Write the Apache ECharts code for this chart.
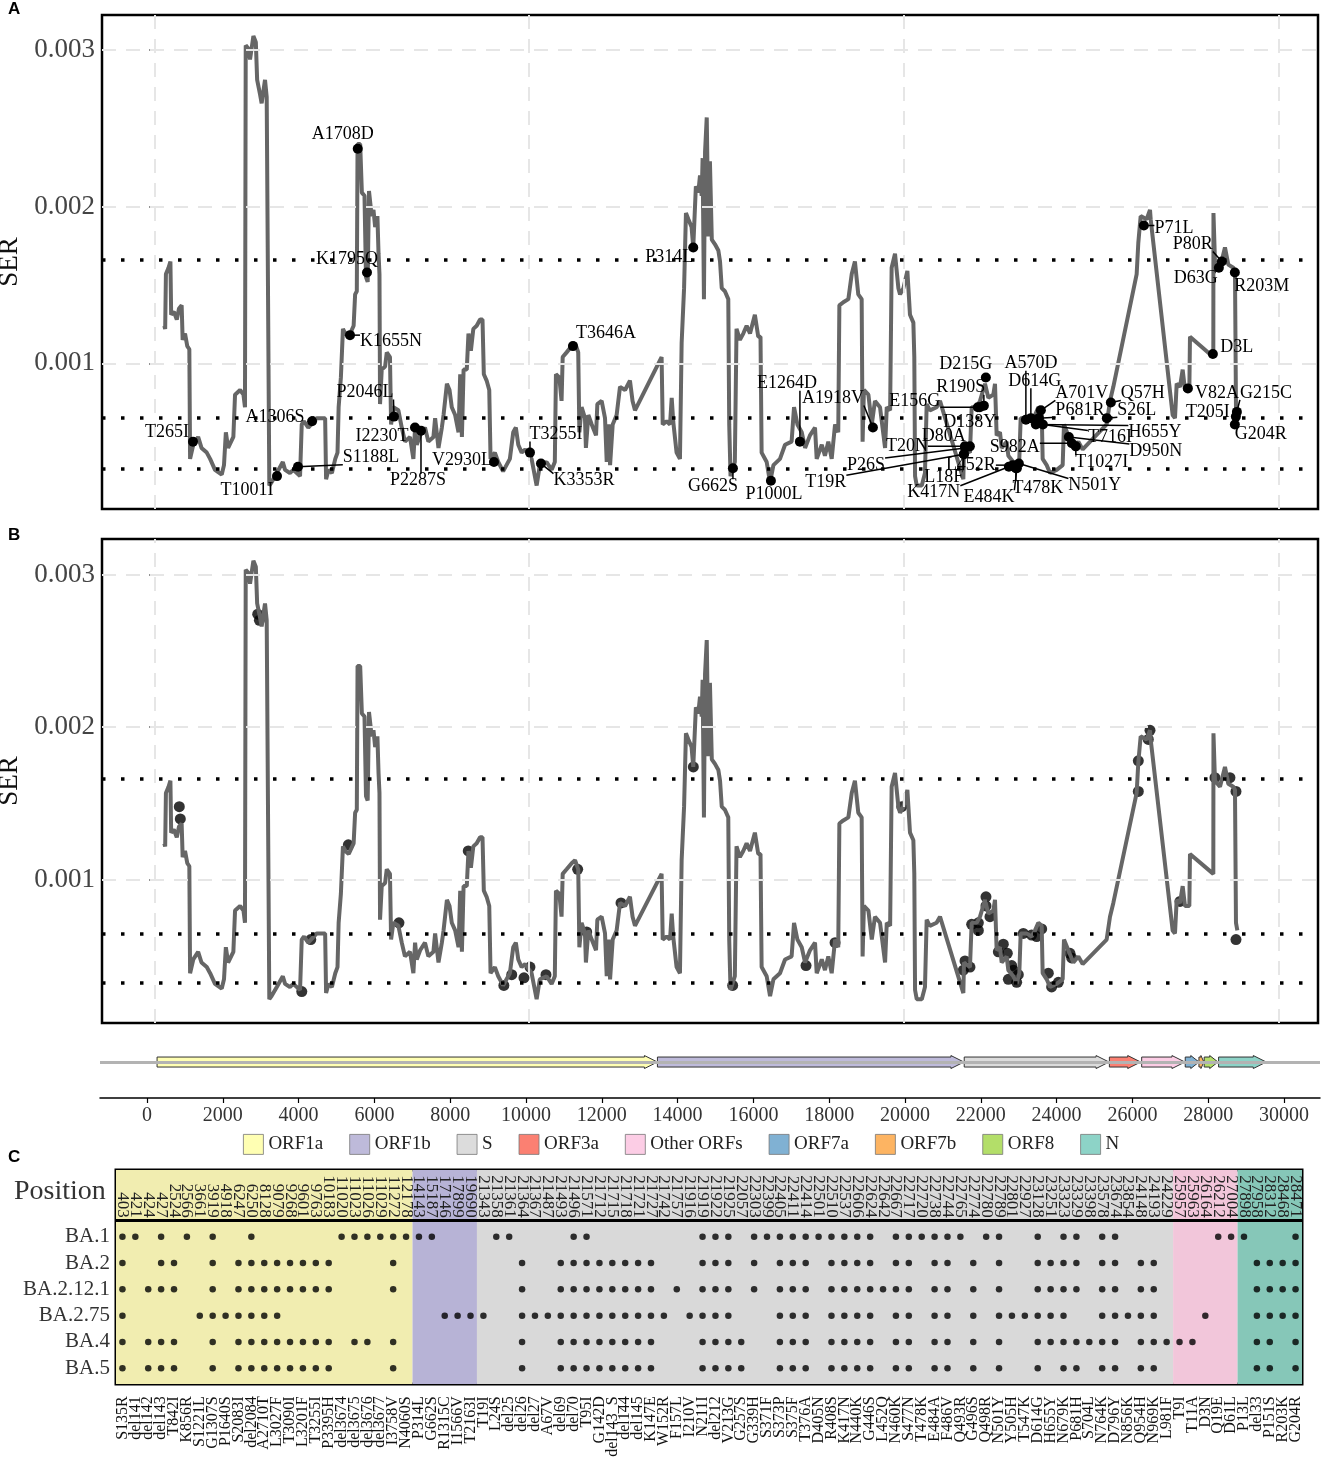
<!DOCTYPE html>
<html>
<head>
<meta charset="utf-8">
<script src="https://cdn.jsdelivr.net/npm/echarts@6/dist/echarts.min.js"></script>
<style>
html, body { margin: 0; padding: 0; background: #fff; }
#charts { width: 1325px; height: 1461px; }
</style>
</head>
<body>
<div id="charts"></div>
<script>
// ---- data ----
// SER along the genome, values in units of 1e-3
var serPoints = [[267,1.24],[290,1.22],[310,1.57],[380,1.61],[430,1.65],[450,1.31],[520,1.33],[600,1.28],[660,1.35],[730,1.37],[757,1.15],[820,1.19],[880,1.11],[935,1.09],[955,0.39],[1040,0.48],[1170,0.53],[1260,0.46],[1400,0.43],[1490,0.39],[1620,0.32],[1800,0.29],[1860,0.35],[1910,0.56],[1970,0.46],[2110,0.53],[2155,0.80],[2290,0.83],[2380,0.80],[2420,0.72],[2440,3.03],[2510,3.01],[2555,2.94],[2645,3.09],[2710,3.05],[2745,2.81],[2820,2.72],[2865,2.66],[2955,2.81],[3000,2.70],[3045,2.70],[3070,0.22],[3130,0.24],[3270,0.30],[3430,0.37],[3490,0.32],[3620,0.30],[3710,0.32],[3890,0.28],[3935,0.61],[3995,0.63],[4110,0.59],[4335,0.65],[4560,0.65],[4585,0.26],[4650,0.32],[4740,0.30],[4830,0.39],[4890,0.43],[4920,0.72],[4980,0.91],[5035,1.22],[5100,1.19],[5190,1.17],[5320,1.24],[5360,1.44],[5405,1.46],[5425,2.40],[5495,2.40],[5540,2.09],[5610,2.07],[5650,1.55],[5695,1.52],[5730,2.10],[5775,2.00],[5800,1.94],[5850,1.98],[5895,1.87],[5955,1.94],[5985,1.70],[6010,1.57],[6025,0.74],[6070,0.96],[6160,0.98],[6205,1.07],[6290,1.04],[6320,0.61],[6380,0.72],[6515,0.70],[6605,0.59],[6690,0.50],[6825,0.53],[6915,0.39],[6960,0.59],[7005,0.48],[7095,0.54],[7225,0.59],[7315,0.50],[7450,0.53],[7495,0.65],[7585,0.46],[7675,0.59],[7720,0.67],[7810,0.87],[7880,0.83],[7940,0.72],[8030,0.67],[8120,0.56],[8165,0.93],[8210,0.53],[8255,0.96],[8340,0.96],[8385,1.19],[8450,1.08],[8515,1.22],[8605,1.24],[8695,1.28],[8760,1.28],[8795,0.93],[8870,0.89],[8940,0.83],[8975,0.39],[9090,0.43],[9180,0.37],[9310,0.31],[9490,0.39],[9580,0.56],[9650,0.59],[9715,0.48],[9805,0.43],[9900,0.45],[10070,0.39],[10205,0.22],[10290,0.35],[10470,0.37],[10605,0.32],[10690,0.37],[10720,0.93],[10810,0.91],[10870,0.76],[10900,1.04],[11005,1.07],[11140,1.11],[11230,1.13],[11315,1.07],[11345,0.56],[11405,0.72],[11495,0.65],[11520,0.46],[11585,0.67],[11675,0.61],[11790,0.54],[11825,0.74],[11940,0.76],[12030,0.65],[12075,0.37],[12125,0.61],[12165,0.35],[12235,0.61],[12340,0.67],[12430,0.85],[12565,0.83],[12695,0.89],[12765,0.76],[12830,0.70],[13540,1.04],[13570,0.61],[13675,0.63],[13765,0.61],[13810,0.78],[13850,0.63],[13940,0.43],[14030,0.39],[14075,1.13],[14140,1.48],[14190,1.96],[14255,1.92],[14340,1.87],[14385,1.74],[14455,2.13],[14520,2.09],[14565,2.20],[14610,2.07],[14635,2.31],[14670,1.41],[14700,2.35],[14745,2.57],[14790,1.81],[14830,2.29],[14880,1.79],[14965,1.76],[15055,1.72],[15100,1.65],[15145,1.48],[15230,1.46],[15320,1.41],[15345,0.61],[15380,0.28],[15495,0.37],[15540,1.22],[15630,1.15],[15720,1.19],[15810,1.24],[15900,1.19],[16030,1.31],[16120,1.17],[16180,1.17],[16210,0.43],[16345,0.37],[16435,0.24],[16525,0.35],[16700,0.39],[16835,0.48],[17010,0.50],[17075,0.72],[17165,0.61],[17280,0.56],[17370,0.46],[17500,0.54],[17635,0.59],[17680,0.39],[17815,0.48],[17900,0.41],[17990,0.50],[18080,0.39],[18170,0.61],[18255,0.56],[18285,1.37],[18390,1.39],[18525,1.41],[18615,1.57],[18700,1.65],[18790,1.44],[18880,1.41],[18905,0.50],[18940,0.83],[19060,0.80],[19150,0.61],[19235,0.76],[19370,0.72],[19505,0.46],[19550,0.72],[19640,0.70],[19680,1.61],[19770,1.70],[19860,1.48],[19905,1.44],[19995,1.48],[20100,1.59],[20170,1.31],[20260,1.26],[20285,1.04],[20305,0.28],[20350,0.22],[20485,0.22],[20570,0.30],[20615,0.74],[20700,0.70],[20880,0.72],[20971,0.76],[21594,0.26],[21611,0.46],[21771,0.43],[21816,0.72],[21950,0.72],[22039,0.76],[22172,0.87],[22261,0.78],[22395,0.80],[22439,0.87],[22483,0.54],[22572,0.56],[22617,0.46],[22750,0.50],[22795,0.41],[22928,0.37],[23017,0.32],[23088,0.39],[23124,0.65],[23284,0.65],[23417,0.63],[23507,0.67],[23595,0.72],[23685,0.70],[23711,0.39],[23818,0.35],[23907,0.30],[24085,0.32],[24245,0.35],[24280,0.61],[24396,0.54],[24530,0.46],[24663,0.50],[24779,0.45],[25419,0.61],[25508,0.76],[25597,0.85],[26220,1.57],[26264,1.77],[26327,1.94],[26487,1.92],[26576,1.98],[26594,1.92],[27181,0.67],[27243,0.65],[27288,0.87],[27377,0.85],[27448,0.96],[27510,0.83],[27626,0.83],[27643,1.17],[28266,1.04],[28270,1.96],[28310,1.65],[28444,1.61],[28577,1.74],[28666,1.63],[28800,1.61],[28844,1.59],[28871,0.72],[28907,0.67]];

var serTicks = [1, 2, 3];                 // 0.001, 0.002, 0.003
var serThresholds = [1.662, 0.654, 0.332];
var genomeGrid = [0, 10000, 20000, 30000];
var genomeTicks = [0,2000,4000,6000,8000,10000,12000,14000,16000,18000,20000,22000,24000,26000,28000,30000];

// panel A labelled mutations
var aNames = ['T265I','T1001I','S1188L','A1306S','K1655N','A1708D','K1795Q','P2046L','I2230T','P2287S','V2930L','T3255I','K3353R','T3646A','P314L','G662S','P1000L','E1264D','A1918V','L18F','T19R','T20N','P26S','D80A','D138Y','E156G','R190S','D215G','K417N','L452R','T478K','E484K','N501Y','A570D','D614G','H655Y','P681R','A701V','T716I','D950N','S982A','T1027I','S26L','Q57H','P71L','V82A','D3L','D63G','P80R','R203M','G204R','T205I','G215C'];
var aPos = [1033,3275,3835,4211,5223,5430,5677,6397,6958,7118,9066,10027,10320,11174,14385,15444,16458,17232,19180,21608,21608,21635,21640,21768,21981,22035,22142,22195,22809,22916,22996,23023,23076,23263,23396,23530,23610,23663,23717,24410,24490,24596,25424,25531,26413,27587,28254,28414,28494,28841,28841,28868,28895];
var aVal = [0.50,0.28,0.34,0.63,1.18,2.37,1.58,0.66,0.59,0.57,0.37,0.43,0.36,1.11,1.74,0.33,0.25,0.50,0.59,0.42,0.42,0.47,0.46,0.47,0.72,0.72,0.73,0.91,0.34,0.35,0.33,0.33,0.36,0.64,0.65,0.61,0.65,0.70,0.61,0.53,0.49,0.47,0.65,0.75,1.88,0.84,1.06,1.61,1.65,1.58,0.61,0.66,0.69];

// panel B mutation points
var bPoints = [[667,1.48],[694,1.40],[2760,2.74],[2805,2.70],[3936,0.27],[4176,0.61],[5179,1.23],[6530,0.72],[8380,1.19],[9330,0.31],[9540,0.38],[9867,0.36],[10027,0.43],[10454,0.38],[11300,1.07],[11540,0.66],[12457,0.85],[14387,1.74],[15437,0.31],[17395,0.44],[18170,0.59],[19950,1.48],[21594,0.41],[21638,0.47],[21771,0.43],[21816,0.71],[21994,0.72],[21994,0.67],[22198,0.89],[22198,0.83],[22305,0.76],[22528,0.53],[22661,0.58],[22768,0.52],[22795,0.35],[22884,0.44],[22928,0.41],[23017,0.33],[23061,0.38],[23195,0.65],[23417,0.64],[23551,0.63],[23685,0.68],[23862,0.39],[23951,0.30],[24130,0.33],[24440,0.52],[24485,0.49],[26264,1.58],[26264,1.78],[26531,1.92],[26576,1.98],[27377,0.86],[28310,1.67],[28710,1.67],[28871,1.58],[28871,0.61]];

// genome map
var geneNames = ['ORF1a','ORF1b','S','ORF3a','Other ORFs','ORF7a','ORF7b','ORF8','N'];
var geneStart = [266,13468,21563,25393,26245,27394,27756,27894,28274];
var geneEnd   = [13468,21555,25384,26220,27387,27759,27887,28259,29533];

// panel C
var positions = ['403','421','424','427','2524','2566','3661','3919','4918','6247','6250','8128','9079','9268','9601','9763','10183','11020','11023','11026','11029','11272','12178','14143','15187','17146','17899','19690','21343','21358','21361','21364','21367','21487','21493','21496','21571','21712','21715','21718','21721','21727','21742','21757','21916','21919','21922','21925','22057','22303','22399','22405','22411','22414','22501','22510','22537','22606','22624','22642','22667','22717','22720','22738','22744','22765','22774','22780','22789','22801','22927','23128','23251','23323','23329','23398','23578','23674','23854','24148','24193','24229','25957','25963','26164','26212','27004','27898','27958','28312','28468','28471'];
var mutations = ['S135R','del141','del142','del143','T842I','K856R','S1221L','G1307S','P1640S','S2083I','del2084','A2710T','L3027F','T3090I','L3201F','T3255I','P3395H','del3674','del3675','del3676','del3677','I3758V','N4060S','P314L','G662S','R1315C','I1566V','T2163I','T19I','L24S','del25','del26','del27','A67V','del69','del70','T95I','G142D','del143_S','del144','del145','K147E','W152R','F157L','I210V','N211I','del212','V213G','G257S','G339H','S371F','S373P','S375F','T376A','D405N','R408S','K417N','N440K','G446S','L452Q','N460K','S477N','T478K','E484A','F486V','Q493R','G496S','Q498R','N501Y','Y505H','T547K','D614G','H655Y','N679K','P681H','S704L','N764K','D796Y','N856K','Q954H','N969K','L981F','T9I','T11A','D3N','Q19E','D61L','P13L','del33','P151S','R203K','G204R'];
var blockNames = ['ORF1a','ORF1b','S','Other ORFs','N'];
var blockSizes = [23, 5, 54, 5, 5];
var lineages = ['BA.1','BA.2','BA.2.12.1','BA.2.75','BA.4','BA.5'];
var lineageCols = [
    [0,1,3,5,7,10,17,18,19,20,21,22,23,24,29,30,35,36,45,46,47,49,50,51,52,53,54,55,56,57,58,60,61,62,63,64,65,67,68,71,73,74,76,77,85,86,87,91],
    [0,3,4,7,9,10,11,12,13,14,15,16,21,31,34,35,36,37,38,39,40,41,45,46,47,49,51,52,53,55,56,57,58,60,61,63,64,66,68,71,72,73,74,76,77,79,80,88,89,90,91],
    [0,2,3,4,7,9,10,11,12,13,14,15,16,21,31,34,35,36,37,38,39,40,41,43,45,46,47,49,51,52,53,55,56,57,58,59,60,61,63,64,66,68,71,72,73,74,76,77,79,80,88,89,90,91],
    [0,6,7,8,9,10,11,12,25,26,27,28,31,32,33,34,35,36,37,38,39,40,41,42,44,45,46,47,51,52,53,55,56,57,58,60,61,63,64,66,68,69,70,71,72,73,76,77,78,79,80,84,88,89,90,91],
    [0,2,3,4,7,9,10,11,12,13,14,15,16,18,19,21,31,34,35,36,37,38,39,40,41,45,46,47,48,51,52,53,55,56,57,58,60,61,63,64,66,68,71,72,73,74,75,76,77,79,80,81,82,83,88,89,91],
    [0,2,3,4,7,9,10,11,12,13,14,15,16,21,31,34,35,36,37,38,39,40,41,45,46,47,48,51,52,53,55,56,57,58,60,61,63,64,66,68,71,73,74,76,77,79,80,88,89,91]
];

// ---- layout / style ----
var SERIF = '"Liberation Serif", "DejaVu Serif", serif';
var LABEL_FONT = '18px ' + SERIF;
// label offsets (px) from each labelled point, like ggrepel placed them
var aOffset = [[-26,-9],[-30,14],[73,-9],[-37,-4],[41,6],[-15,-14],[-20,-13],[-29,-24],[-33,9],[-3,50],[-32,-2],[26,-18],[43,17],[33,-13],[-24,10],[-20,18],[3,13],[-13,-58],[-40,-29],[-20,23],[-138,28],[-58,0],[-99,17],[-26,-10],[-8,15],[-65,-6],[-23,-18],[-20,-13],[-75,26],[-42,0],[22,20],[-28,29],[76,22],[5,-56],[4,-37],[119,8],[41,-8],[41,-17],[67,13],[87,14],[-57,4],[26,16],[30,-8],[32,-9],[30,3],[29,5],[24,-7],[-23,10],[-29,-17],[27,14],[26,10],[-28,-4],[29,-19]];
var geneColors = ['#ffffb3','#bebada','#dcdcdc','#fb8072','#fccde5','#80b1d3','#fdb462','#b3de69','#8dd3c7'];
var blockColors = ['#f1edb0','#b7b3d6','#d9d9d9','#f2c6da','#86c7b8'];

var measureCtx = document.createElement('canvas').getContext('2d');
function textWidth(t, font) {
    measureCtx.font = font;
    return measureCtx.measureText(t).width;
}

function renderMutLabel(params, api) {
    var i = params.dataIndex;
    var p = api.coord([api.value(0), api.value(1)]);
    var cx = p[0] + aOffset[i][0], cy = p[1] + aOffset[i][1];
    var w = textWidth(aNames[i], LABEL_FONT), h = 14;
    var nx = Math.max(cx - w / 2, Math.min(p[0], cx + w / 2));
    var ny = Math.max(cy - h / 2, Math.min(p[1], cy + h / 2));
    var kids = [];
    if (Math.hypot(nx - p[0], ny - p[1]) > 8) {
        kids.push({ type: 'line', shape: { x1: p[0], y1: p[1], x2: nx, y2: ny }, style: { stroke: '#000', lineWidth: 1.5 } });
    }
    kids.push({ type: 'circle', shape: { cx: p[0], cy: p[1], r: 5 }, style: { fill: '#000' } });
    kids.push({ type: 'text', x: cx, y: cy, style: { text: aNames[i], font: LABEL_FONT, fill: '#000', align: 'center', verticalAlign: 'middle' } });
    return { type: 'group', children: kids };
}

function renderGene(params, api) {
    var y = api.coord([0, 0.62])[1];
    var s = api.coord([api.value(0), 0.62])[0];
    var e = api.coord([api.value(1), 0.62])[0];
    var hl = Math.min(13, (e - s) * 0.6);
    return {
        type: 'polygon',
        shape: { points: [[s, y - 5], [e - hl, y - 5], [e - hl, y - 6.5], [e, y], [e - hl, y + 6.5], [e - hl, y + 5], [s, y + 5]] },
        style: { fill: api.visual('color'), stroke: '#333', lineWidth: 1 }
    };
}

function serPanelAxisY(grid, min, max) {
    return {
        gridIndex: grid, type: 'value', min: min, max: max,
        axisLine: { show: false },
        axisTick: { show: true, customValues: serTicks, length: 5, lineStyle: { color: '#333', width: 1.5 } },
        axisLabel: { customValues: serTicks, formatter: function (v) { return (v / 1000).toFixed(3); }, fontFamily: SERIF, fontSize: 27, color: '#444', margin: 7 },
        splitLine: { show: false },
        name: 'SER', nameLocation: 'middle', nameGap: 68, nameRotate: 90,
        nameTextStyle: { fontFamily: SERIF, fontSize: 27, color: '#111' }
    };
}

function gridSeries(k) {
    return {
        type: 'line', xAxisIndex: k, yAxisIndex: k, data: [], z: 0, silent: true,
        markLine: {
            silent: true, symbol: 'none', label: { show: false }, animation: false,
            lineStyle: { color: '#e6e6e6', width: 2, type: [14, 10] },
            data: serTicks.map(function (v) { return { yAxis: v }; })
                .concat(genomeGrid.map(function (v) { return { xAxis: v }; }))
        }
    };
}

function thresholdSeries(k) {
    return {
        type: 'line', xAxisIndex: k, yAxisIndex: k, data: [], z: 5, silent: true,
        markLine: {
            silent: true, symbol: 'none', label: { show: false }, animation: false,
            lineStyle: { color: '#000', width: 3.5, type: [3.5, 15.5] },
            data: serThresholds.map(function (v) { return { yAxis: v }; })
        }
    };
}

// ---- build ----
var myChart = echarts.init(document.getElementById('charts'));

var mutData = aPos.map(function (p, i) { return [p, aVal[i]]; });
var dots = [];
lineageCols.forEach(function (cols, r) {
    cols.forEach(function (c) { dots.push([c, r]); });
});
var bandAreas = [];
var acc = 0;
blockSizes.forEach(function (n, i) {
    bandAreas.push([{ xAxis: acc, itemStyle: { color: blockColors[i] } }, { xAxis: acc + n }]);
    acc += n;
});

var geneSeries = geneNames.map(function (g, i) {
    return {
        name: g, type: 'custom', xAxisIndex: 2, yAxisIndex: 2, clip: false,
        itemStyle: { color: geneColors[i] },
        renderItem: renderGene,
        data: [[geneStart[i], geneEnd[i]]]
    };
});

var frameGrid = { show: true, borderColor: '#000', borderWidth: 2.5, backgroundColor: '#fff' };

option = {
    animation: false,
    backgroundColor: '#fff',
    grid: [
        Object.assign({ left: 102, top: 15, width: 1216, height: 494, outerBoundsMode: 'none' }, frameGrid),
        Object.assign({ left: 102, top: 539, width: 1216, height: 484, outerBoundsMode: 'none' }, frameGrid),
        { left: 100, top: 1040, width: 1220, height: 58, outerBoundsMode: 'none' },
        { left: 116, top: 1170, width: 1186, height: 214, show: true, borderColor: '#000', borderWidth: 3, outerBoundsMode: 'none' },
        { left: 116, top: 1236.7, width: 1186, height: 131.6, outerBoundsMode: 'none' }
    ],
    xAxis: [
        { gridIndex: 0, type: 'value', min: -1396, max: 31060, show: false },
        { gridIndex: 1, type: 'value', min: -1396, max: 31060, show: false },
        {
            gridIndex: 2, type: 'value', min: -1240, max: 30950,
            axisLine: { lineStyle: { color: '#000', width: 1.5 } },
            axisTick: { customValues: genomeTicks, length: 5, lineStyle: { color: '#000', width: 1.2 } },
            axisLabel: { customValues: genomeTicks, formatter: function (v) { return String(v); }, fontFamily: SERIF, fontSize: 20, color: '#333', margin: 8 },
            splitLine: { show: false }
        },
        {
            gridIndex: 4, type: 'category', data: mutations, position: 'bottom',
            axisLine: { show: false }, axisTick: { show: false },
            axisLabel: { interval: 0, rotate: 90, fontFamily: SERIF, fontSize: 16, color: '#111', margin: 28 }
        },
        {
            gridIndex: 4, type: 'category', data: positions, position: 'top', z: 10,
            axisLine: { show: false }, axisTick: { show: false },
            axisLabel: { interval: 0, rotate: 90, fontFamily: SERIF, fontSize: 17, color: '#222', margin: 19 }
        },
        { gridIndex: 3, type: 'value', min: 0, max: 92, show: false }
    ],
    yAxis: [
        serPanelAxisY(0, 0.070, 3.224),
        serPanelAxisY(1, 0.064, 3.232),
        { gridIndex: 2, type: 'value', min: 0, max: 1, show: false },
        {
            gridIndex: 4, type: 'category', data: lineages, inverse: true, boundaryGap: false,
            axisLine: { show: false }, axisTick: { show: false }, splitLine: { show: false },
            axisLabel: { interval: 0, fontFamily: SERIF, fontSize: 21, color: '#333', margin: 6 }
        },
        { gridIndex: 3, type: 'value', min: 0, max: 214, inverse: true, show: false }
    ],
    legend: {
        data: geneNames, top: 1129, left: 238, itemWidth: 20, itemHeight: 20, itemGap: 26,
        icon: 'rect', selectedMode: false,
        itemStyle: { borderColor: '#777', borderWidth: 0.8 },
        textStyle: { fontFamily: SERIF, fontSize: 19, color: '#222' }
    },
    graphic: [
        { type: 'text', left: 8, top: 1, style: { text: 'A', font: 'bold 17px "Liberation Sans", Arial', fill: '#000' } },
        { type: 'text', left: 8, top: 527, style: { text: 'B', font: 'bold 17px "Liberation Sans", Arial', fill: '#000' } },
        { type: 'text', left: 8, top: 1149, style: { text: 'C', font: 'bold 17px "Liberation Sans", Arial', fill: '#000' } },
        { type: 'text', left: 14, top: 1178, style: { text: 'Position', font: '28px ' + SERIF, fill: '#333' } }
    ],
    series: [
        gridSeries(0),
        gridSeries(1),
        {
            type: 'line', xAxisIndex: 0, yAxisIndex: 0, data: serPoints, showSymbol: false, z: 2,
            lineStyle: { color: '#666', width: 4 }, silent: true
        },
        {
            type: 'line', xAxisIndex: 1, yAxisIndex: 1, data: serPoints, showSymbol: false, z: 2,
            lineStyle: { color: '#666', width: 4 }, silent: true
        },
        thresholdSeries(0),
        thresholdSeries(1),
        {
            type: 'custom', xAxisIndex: 0, yAxisIndex: 0, z: 6, clip: false,
            renderItem: renderMutLabel, data: mutData
        },
        {
            type: 'scatter', xAxisIndex: 1, yAxisIndex: 1, z: 1, symbolSize: 11,
            itemStyle: { color: '#000' }, data: bPoints
        },
        {
            type: 'line', xAxisIndex: 2, yAxisIndex: 2, data: [], silent: true, z: 0,
            markLine: {
                silent: true, symbol: 'none', label: { show: false },
                lineStyle: { color: '#b3b3b3', width: 3, type: 'solid' },
                data: [{ yAxis: 0.62 }]
            }
        }
    ].concat(geneSeries).concat([
        {
            type: 'line', xAxisIndex: 5, yAxisIndex: 4, data: [], silent: true, z: 0,
            markArea: { silent: true, data: bandAreas },
            markLine: {
                silent: true, symbol: 'none', label: { show: false },
                lineStyle: { color: '#000', width: 3, type: 'solid' },
                data: [{ yAxis: 50 }]
            }
        },
        {
            type: 'scatter', xAxisIndex: 3, yAxisIndex: 3, symbolSize: 6.5, z: 3,
            itemStyle: { color: '#000' }, data: dots
        }
    ])
};

myChart.setOption(option);
</script>
</body>
</html>
